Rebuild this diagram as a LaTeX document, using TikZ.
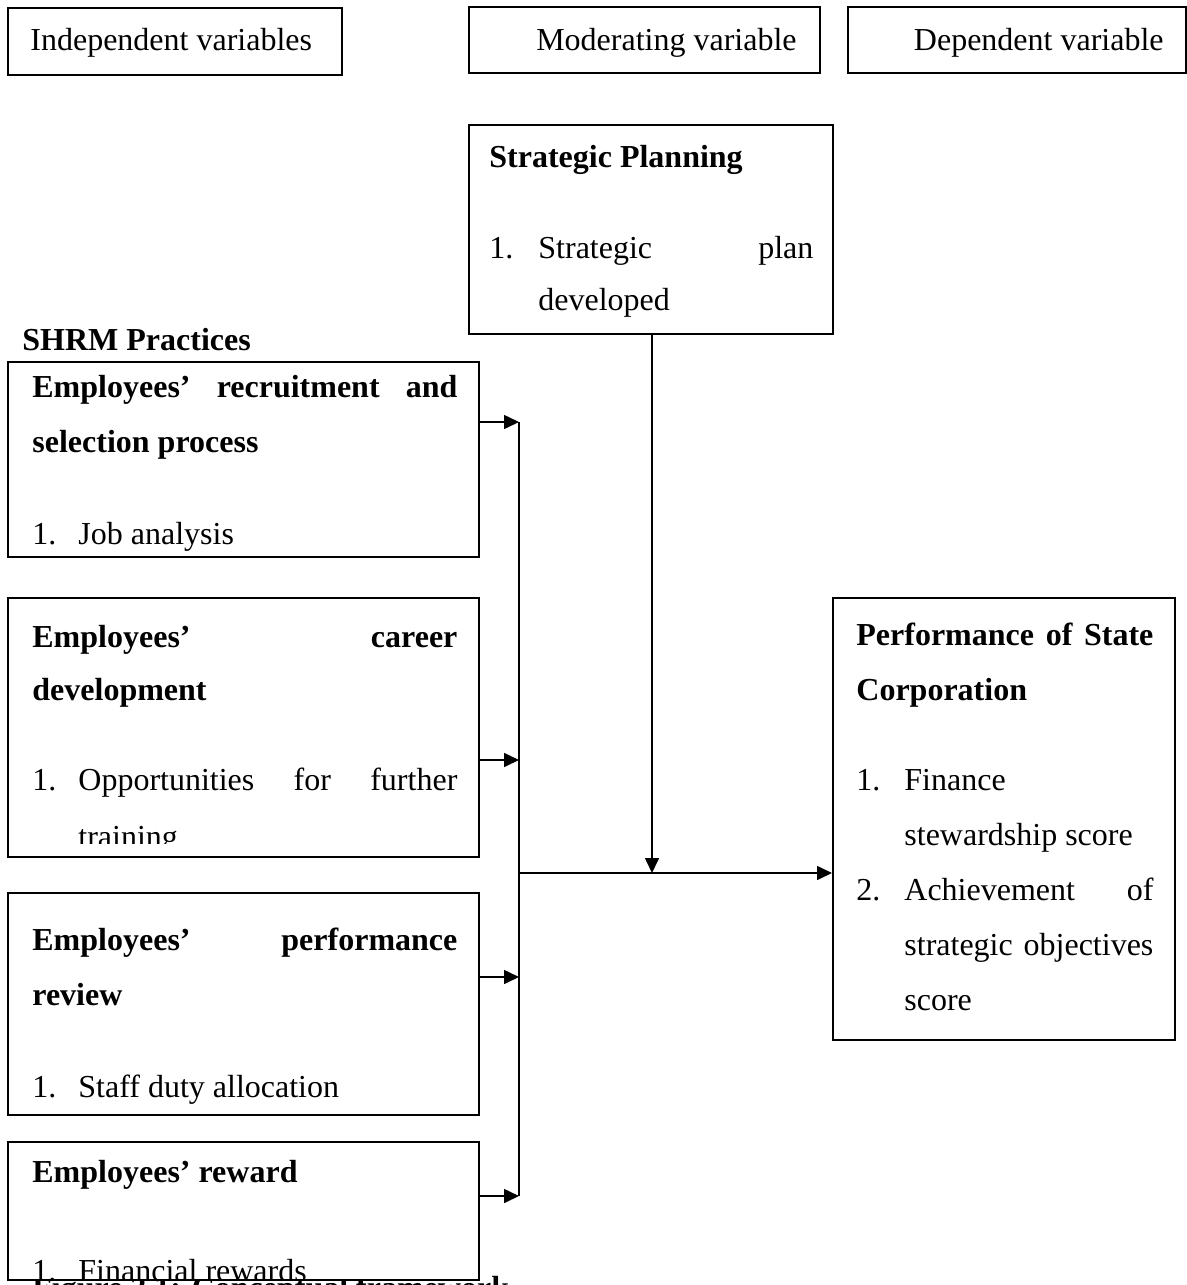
\documentclass[tikz,border=0pt]{standalone}
\usepackage{fontspec}
\setmainfont{Liberation Serif}
\usetikzlibrary{arrows.meta,fit}
\newcommand\bodyfont{\fontsize{16}{27.5}\selectfont}
\begin{document}
\begin{tikzpicture}[x=0.5pt,y=-0.5pt,
  box/.style={draw, line width=1pt, fill=white, inner sep=0pt},
  ln/.style={anchor=base west, inner sep=0pt, font=\bodyfont},
  lne/.style={anchor=base east, inner sep=0pt, font=\bodyfont},
  bl/.style={anchor=base west, inner sep=0pt, font=\bodyfont\bfseries},
  arr/.style={line width=0.8pt, -{Triangle[length=7.5pt,width=7pt]}},
  con/.style={line width=0.8pt}]
\useasboundingbox (0,0) rectangle (1187,1285);
\clip (0,0) rectangle (1187,1285);

% header boxes
\node[box, fit={(8,8)(342,75)}] (hI) {};
\node[ln] (hIt) at (30,50) {Independent variables};
\node[box, fit={(469,7)(820,73)}] (hM) {};
\node[lne] (hMt) at (797,50) {Moderating variable};
\node[box, fit={(848,7)(1186,73)}] (hD) {};
\node[lne] (hDt) at (1164,50) {Dependent variable};

% strategic planning
\node[box, fit={(469,125)(833,334)}] (sp) {};
\node[bl] (spa) at (489,167) {Strategic Planning};
\node[ln] (spb) at (489,258) {1.};
\node[ln] (spc) at (538,258) {\hbox to 137.5pt{Strategic\hfill plan}};
\node[ln] (spd) at (538,310) {developed};

\node[bl] (shrm) at (22,350) {SHRM Practices};

% box 1
\node[box, fit={(8,362)(479,557)}] (b1) {};
\node[bl] (b1a) at (32,397) {\hbox to 212.5pt{Employees’\hfill recruitment\hfill and}};
\node[bl] (b1b) at (32,452) {selection process};
\node[ln] (b1c) at (32,544) {1.};
\node[ln] (b1d) at (78,544) {Job analysis};

% box 2
\node[box, fit={(8,598)(479,857)}] (b2) {};
\node[bl] (b2a) at (32,647) {\hbox to 212.5pt{Employees’\hfill career}};
\node[bl] (b2b) at (32,700) {development};
\node[ln] (b2c) at (32,790) {1.};
\node[ln] (b2d) at (78,790) {\hbox to 189.5pt{Opportunities\hfill for\hfill further}};
\begin{scope}
\clip (b2.north west) rectangle (479,843);
\node[ln] (b2e) at (78,847) {training};
\end{scope}

% box 3
\node[box, fit={(8,893)(479,1115)}] (b3) {};
\node[bl] (b3a) at (32,950) {\hbox to 212.5pt{Employees’\hfill performance}};
\node[bl] (b3b) at (32,1005) {review};
\node[ln] (b3c) at (32,1097) {1.};
\node[ln] (b3d) at (78,1097) {Staff duty allocation};

% caption hidden behind box 4
\node[bl] (cap) at (32,1298) {Figure 2.1: Conceptual framework};

% box 4
\node[box, fit={(8,1142)(479,1280)}] (b4) {};
\node[bl] (b4a) at (32,1182) {Employees’ reward};
\begin{scope}
\clip (b4.north west) rectangle (479,1278);
\node[ln] (b4b) at (32,1281) {1.};
\node[ln] (b4c) at (78,1281) {Financial rewards};
\end{scope}

% performance
\node[box, fit={(833,598)(1175,1040)}] (pf) {};
\node[bl] (pfa) at (856,645) {\hbox to 148.5pt{Performance\hfill of\hfill State}};
\node[bl] (pfb) at (856,700) {Corporation};
\node[ln] (pfc) at (856,790) {1.};
\node[ln] (pfd) at (904,790) {Finance};
\node[ln] (pfe) at (904,845) {stewardship score};
\node[ln] (pff) at (856,900) {2.};
\node[ln] (pfg) at (904,900) {\hbox to 124.5pt{Achievement\hfill of}};
\node[ln] (pfh) at (904,955) {\hbox to 124.5pt{strategic\hfill objectives}};
\node[ln] (pfi) at (904,1010) {score};

% connectors
\coordinate (j1) at (519,422);
\coordinate (j2) at (519,760);
\coordinate (j3) at (519,977);
\coordinate (j4) at (519,1196);
\coordinate (jm) at (519,873);
\coordinate (mm) at (652,873);
\draw[con] (j1) -- (j4);
\draw[arr] (b1.east |- j1) -- (j1);
\draw[arr] (b2.east |- j2) -- (j2);
\draw[arr] (b3.east |- j3) -- (j3);
\draw[arr] (b4.east |- j4) -- (j4);
\draw[arr] (jm) -- (pf.west |- jm);
\draw[arr] (sp.south -| mm) -- (mm);
\end{tikzpicture}
\end{document}
